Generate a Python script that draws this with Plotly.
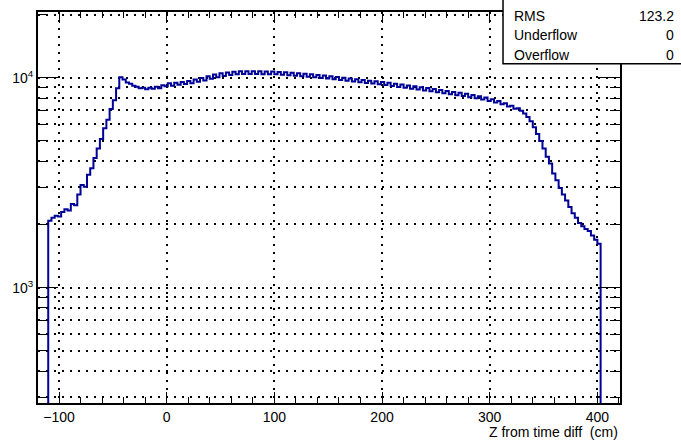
import numpy as np
import plotly.graph_objects as go

# histogram binning: 171 bins of 3 cm starting at -110 cm
bin_start = -110
bin_width = 3
counts = [
    2080, 2150, 2200, 2180, 2290, 2360, 2330, 2500, 2470, 2780,
    3080, 3020, 3450, 3700, 4150, 4600, 5100, 5750, 6300, 7100,
    7800, 8900, 10050, 9800, 9500, 9350, 9150, 9050, 8900, 8950,
    8800, 8950, 8850, 9050, 8900, 9200, 9100, 9400, 9150, 9470,
    9250, 9550, 9330, 9650, 9420, 9800, 9560, 9980, 9700, 10150,
    9880, 10350, 10060, 10500, 10200, 10600, 10300, 10680, 10380, 10720,
    10420, 10730, 10420, 10730, 10420, 10720, 10400, 10710, 10390, 10700,
    10380, 10660, 10330, 10620, 10280, 10560, 10220, 10500, 10160, 10440,
    10100, 10380, 10040, 10310, 9970, 10240, 9900, 10160, 9830, 10080,
    9750, 10000, 9680, 9920, 9600, 9840, 9520, 9760, 9440, 9680,
    9380, 9610, 9300, 9550, 9220, 9460, 9130, 9370, 9040, 9280,
    8960, 9190, 8870, 9100, 8790, 9010, 8700, 8920, 8610, 8830,
    8520, 8740, 8440, 8650, 8350, 8560, 8260, 8470, 8180, 8380,
    8080, 8270, 7980, 8160, 7870, 8040, 7750, 7900, 7620, 7740,
    7470, 7560, 7290, 7350, 7120, 7150, 6950, 6750, 6500, 6200,
    5800, 5400, 5000, 4600, 4200, 3900, 3500, 3250, 2980, 2780,
    2600, 2420, 2260, 2150, 2030, 1960, 1900, 1860, 1770, 1690,
    1620,
]

rms_value = "123.2"
underflow = "0"
overflow = "0"

edges = bin_start + bin_width * np.arange(len(counts) + 1)

# step outline, dropping to the baseline at both ends like ROOT
xs = [edges[0]] + list(edges[:-1]) + [edges[-1], edges[-1]]
ys = [1] + counts + [counts[-1], 1]

fig = go.Figure()
fig.add_trace(go.Scatter(
    x=xs, y=ys, mode="lines",
    line=dict(shape="hv", color="#000099", width=2),
    hoverinfo="skip", showlegend=False,
))

dotgrid = dict(gridcolor="black", gridwidth=1.5, griddash="2px,6px")

fig.update_xaxes(
    range=[-119.5, 421], tick0=0, dtick=100,
    ticks="inside", ticklen=11, tickwidth=1, tickcolor="black",
    showline=True, linewidth=2, linecolor="black", mirror="ticks",
    showgrid=True, zeroline=False,
    minor=dict(dtick=20, ticks="inside", ticklen=6, tickcolor="black", showgrid=False),
    tickfont=dict(size=14, color="black"),
    **dotgrid,
)

fig.update_yaxes(
    type="log", range=[np.log10(282), np.log10(20560)],
    tickvals=[1000, 10000], ticktext=["10<sup>3</sup>", "10<sup>4</sup>"],
    ticks="inside", ticklen=20, tickwidth=1, tickcolor="black",
    showline=True, linewidth=2, linecolor="black", mirror="ticks",
    showgrid=True, zeroline=False,
    minor=dict(
        tickvals=[300, 400, 500, 600, 700, 800, 900,
                  2000, 3000, 4000, 5000, 6000, 7000, 8000, 9000, 20000],
        ticks="inside", ticklen=10, tickcolor="black",
        showgrid=True, **dotgrid,
    ),
    tickfont=dict(size=14, color="black"),
    **dotgrid,
)

# stats box (top right, partly off the canvas)
fig.add_shape(type="rect", xref="paper", yref="paper",
              x0=0.799, x1=1.13, y0=0.8677, y1=1.04,
              line=dict(color="black", width=1.5), fillcolor="white", layer="above")
rows = [("RMS", rms_value, 0.9898), ("Underflow", underflow, 0.9415), ("Overflow", overflow, 0.8906)]
for name, val, yy in rows:
    fig.add_annotation(text=name, x=0.8144, y=yy, xref="paper", yref="paper",
                       xanchor="left", yanchor="middle", showarrow=False,
                       font=dict(size=14, color="black"))
    fig.add_annotation(text=val, x=1.0962, y=yy, xref="paper", yref="paper",
                       xanchor="right", yanchor="middle", showarrow=False,
                       font=dict(size=14, color="black"))

fig.add_annotation(text="Z from time diff  (cm)", x=1.0, y=-0.0738,
                   xref="paper", yref="paper", xanchor="right", yanchor="middle",
                   showarrow=False, font=dict(size=14, color="black"))

fig.update_layout(
    width=681, height=441,
    margin=dict(l=38, r=61, t=10, b=38),
    paper_bgcolor="white", plot_bgcolor="white",
    font=dict(family="Liberation Sans, Arial, sans-serif", color="black"),
)

# drop the default page margin so the figure fills the window exactly
fig.write_html("out.html", config={"displayModeBar": False},
               post_script="document.body.style.margin='0';document.body.style.overflow='hidden';")
